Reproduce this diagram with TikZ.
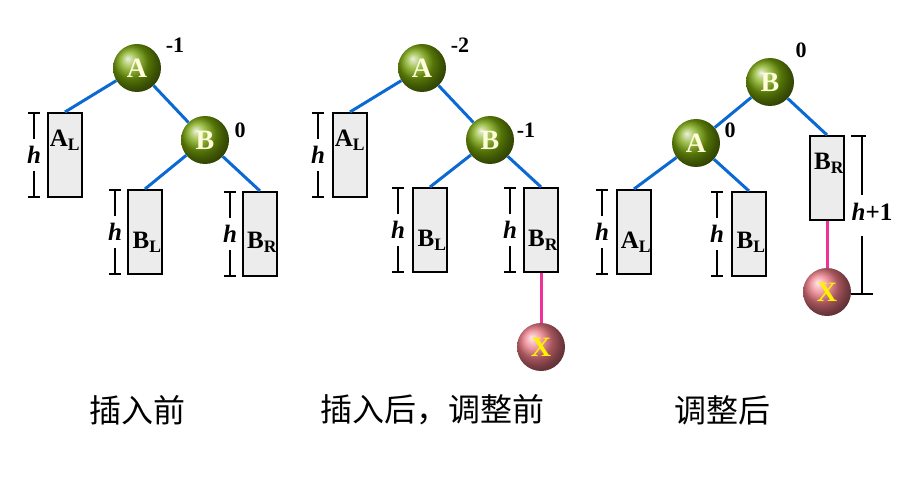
\documentclass[tikz,border=0pt]{standalone}
\usepackage{fontspec}
\setmainfont{Liberation Serif}
\newfontfamily\cjk{Noto Sans CJK SC}
\definecolor{olv}{RGB}{120,165,10}
\definecolor{rsx}{RGB}{235,120,130}
\definecolor{edg}{RGB}{10,105,210}
\definecolor{pnk}{RGB}{240,50,150}
\begin{document}
\begin{tikzpicture}[x=1pt,y=-1pt,
  ball/.style={circle,minimum size=48pt,inner sep=0pt,shading=ball,ball color=olv,text=yellow!15,font=\fontsize{28}{28}\selectfont\bfseries},
  xball/.style={circle,minimum size=48pt,inner sep=0pt,shading=ball,ball color=rsx,text=yellow,font=\fontsize{28}{28}\selectfont\bfseries},
  tree/.style={draw=edg,line width=3pt},
  pink/.style={draw=pnk,line width=3pt},
  sub/.style={draw=black,line width=2pt,fill=gray!15,minimum width=34pt,minimum height=84pt,inner sep=0pt},
  lab/.style={font=\fontsize{25}{25}\selectfont\bfseries,inner sep=0pt},
  bf/.style={font=\fontsize{22}{22}\selectfont\bfseries,inner sep=0pt},
  hh/.style={font=\fontsize{25}{25}\selectfont\bfseries\itshape,inner sep=0pt},
  br/.style={line width=1.6pt},
  captxt/.style={font=\cjk\fontsize{32}{32}\selectfont,inner sep=0pt}]
\useasboundingbox (0,0) rectangle (901,478);
\tikzset{hbr/.pic={\draw[br] (-6,-42)--(6,-42) (0,-42)--(0,-16) (0,16)--(0,42) (-6,42)--(6,42); \node[hh] at (0,0) {h};}}
% ---- Panel 1
\node[sub] (al1) at (65,155) {};
\node[sub] (bl1) at (145,232) {};
\node[sub] (br1) at (260,234) {};
\node[ball] (a1) at (137,68) {A};
\node[ball] (b1) at (205,140) {B};
\draw[tree] (a1) -- (b1);
\draw[tree] (b1) -- (bl1.north);
\draw[tree] (b1) -- (br1.north);
\draw[tree] (a1) -- (al1.north);
\node[bf] (n1) at (175,45) {-1};
\node[bf] (n2) at (240,130) {0};
\node[lab] (t1) at (65,140) {A\textsubscript{L}};
\node[lab] (t2) at (147,242) {B\textsubscript{L}};
\node[lab] (t3) at (262,242) {B\textsubscript{R}};
\pic at (34,155) {hbr}; \pic at (115,232) {hbr}; \pic at (230,234) {hbr};
% ---- Panel 2
\node[sub] (al2) at (350,155) {};
\node[sub] (bl2) at (430,230) {};
\node[sub] (br2) at (541,230) {};
\node[ball] (a2) at (422,68) {A};
\node[ball] (b2) at (490,140) {B};
\node[xball] (x2) at (541,347) {X};
\draw[tree] (a2) -- (b2);
\draw[tree] (a2) -- (al2.north);
\draw[tree] (b2) -- (bl2.north);
\draw[tree] (b2) -- (br2.north);
\draw[pink] (br2.south) -- (x2);
\node[bf] (n3) at (460,45) {-2};
\node[bf] (n4) at (526,130) {-1};
\node[lab] (t4) at (350,140) {A\textsubscript{L}};
\node[lab] (t5) at (432,240) {B\textsubscript{L}};
\node[lab] (t6) at (543,240) {B\textsubscript{R}};
\pic at (318,155) {hbr}; \pic at (398,230) {hbr}; \pic at (510,230) {hbr};
% ---- Panel 3
\node[sub] (al3) at (634,232) {};
\node[sub] (bl3) at (749,234) {};
\node[sub] (br3) at (827,178) {};
\node[ball] (b3) at (770,82) {B};
\node[ball] (a3) at (696,143) {A};
\node[xball] (x3) at (827,292) {X};
\draw[tree] (b3) -- (a3);
\draw[tree] (b3) -- (br3.north);
\draw[tree] (a3) -- (al3.north);
\draw[tree] (a3) -- (bl3.north);
\draw[pink] (br3.south) -- (x3);
\node[bf] (n5) at (801,50) {0};
\node[bf] (n6) at (730,130) {0};
\node[lab] (t7) at (636,242) {A\textsubscript{L}};
\node[lab] (t8) at (751,242) {B\textsubscript{L}};
\node[lab] (t9) at (829,163) {B\textsubscript{R}};
\pic at (602,232) {hbr}; \pic at (717,234) {hbr};
\draw[br] (851,136)--(866,136) (862,136)--(862,195) (862,236)--(862,294) (851,294)--(873,294);
\node[hh] (hp) at (872,212) {h\textup{+1}};
% captions
\node[captxt] (c1) at (137,410) {插入前};
\node[captxt] (c2) at (432,410) {插入后，调整前};
\node[captxt] (c3) at (722,410) {调整后};
\end{tikzpicture}
\end{document}
